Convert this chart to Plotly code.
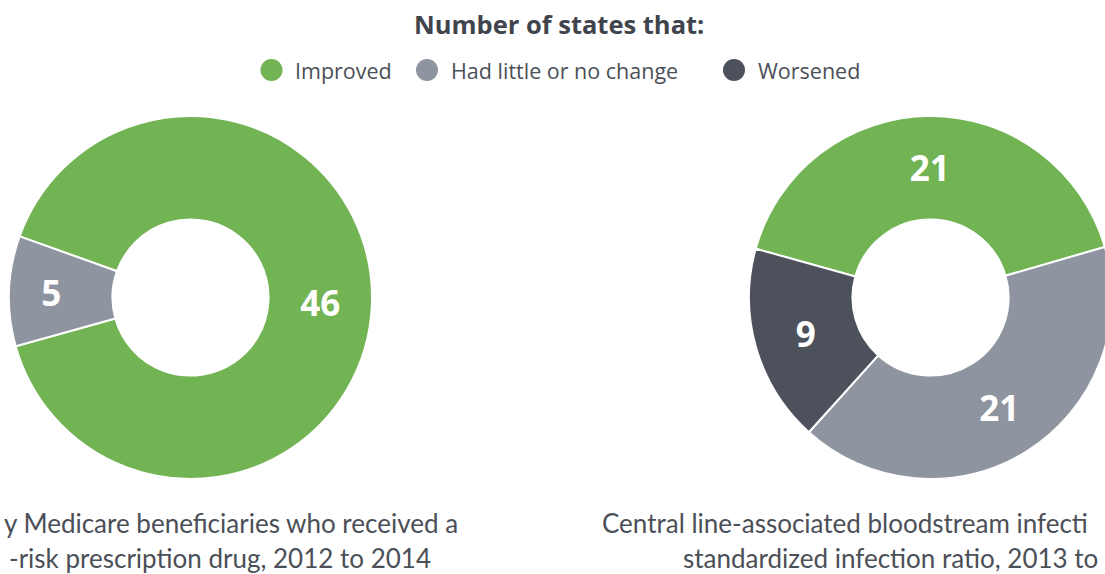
import plotly.graph_objects as go

# ---- data ----
categories = ["Improved", "Had little or no change", "Worsened"]
colors = ["#72b354", "#8f95a0", "#4d515b"]

left_labels = ["Improved", "Had little or no change"]
left_values = [46, 5]
left_title = ["y Medicare beneficiaries who received a",
              "-risk prescription drug, 2012 to 2014"]

right_labels = ["Improved", "Had little or no change", "Worsened"]
right_values = [21, 21, 9]
right_title = ["Central line-associated bloodstream infecti",
               "standardized infection ratio, 2013 to"]

legend_header = "Number of states that:"

# ---- layout constants ----
W, H = 1112, 574
LABEL_FONT = "Open Sans"
BODY_FONT = "Lato"
TEXT_COL = "#4b4f58"
cmap = dict(zip(categories, colors))


def px(x):
    return x / W


def py(y):
    return 1 - y / H


fig = go.Figure()

common = dict(
    hole=0.43,
    sort=False,
    direction="clockwise",
    textinfo="value",
    textposition="inside",
    insidetextorientation="horizontal",
    textfont=dict(family=LABEL_FONT, size=35, color="white", weight="bold"),
    marker_line=dict(color="white", width=2),
    hoverinfo="skip",
    showlegend=False,
)

fig.add_trace(go.Pie(
    labels=left_labels, values=left_values,
    marker_colors=[cmap[c] for c in left_labels],
    rotation=-70.3,
    domain=dict(x=[px(9), px(372)], y=[py(479), py(116)]),
    **common,
))

fig.add_trace(go.Pie(
    labels=right_labels, values=right_values,
    marker_colors=[cmap[c] for c in right_labels],
    rotation=-74.4,
    domain=dict(x=[px(749), px(1112)], y=[py(479), py(116)]),
    **common,
))

annotations = []
shapes = []

# legend header
annotations.append(dict(
    text=legend_header, x=px(559), y=py(24), xref="paper", yref="paper",
    xanchor="center", yanchor="middle", showarrow=False,
    font=dict(family=LABEL_FONT, size=25.5, color="#40444c", weight="bold"),
))

# custom legend (circles + labels)
legend_circle_x = [271.5, 427, 734]
legend_text_x = [293, 449, 756]
for cat, cx, tx in zip(categories, legend_circle_x, legend_text_x):
    r = 11
    shapes.append(dict(
        type="circle", xref="paper", yref="paper",
        x0=px(cx - r), x1=px(cx + r), y0=py(70 + r), y1=py(70 - r),
        fillcolor=cmap[cat], line=dict(width=0),
    ))
    annotations.append(dict(
        text=cat, x=px(tx), y=py(70.5), xref="paper", yref="paper",
        xanchor="left", yanchor="middle", showarrow=False,
        font=dict(family=LABEL_FONT, size=21.5, color=TEXT_COL),
    ))

# chart titles below donuts
for line, (x, y) in zip(left_title, [(460, 523), (433, 558)]):
    annotations.append(dict(
        text=line, x=px(x), y=py(y), xref="paper", yref="paper",
        xanchor="right", yanchor="middle", showarrow=False,
        font=dict(family=BODY_FONT, size=26, color=TEXT_COL),
    ))
for line, (x, y) in zip(right_title, [(600, 523), (681, 558)]):
    annotations.append(dict(
        text=line, x=px(x), y=py(y), xref="paper", yref="paper",
        xanchor="left", yanchor="middle", showarrow=False,
        font=dict(family=BODY_FONT, size=26, color=TEXT_COL),
    ))

fig.update_layout(
    width=W, height=H,
    margin=dict(l=0, r=0, t=0, b=0),
    paper_bgcolor="white", plot_bgcolor="white",
    annotations=annotations, shapes=shapes,
    showlegend=False,
)

fig.write_html(
    "out.html",
    config=dict(displayModeBar=False),
    post_script="document.body.style.margin='0';document.documentElement.style.overflow='hidden';document.body.style.overflow='hidden';",
)
